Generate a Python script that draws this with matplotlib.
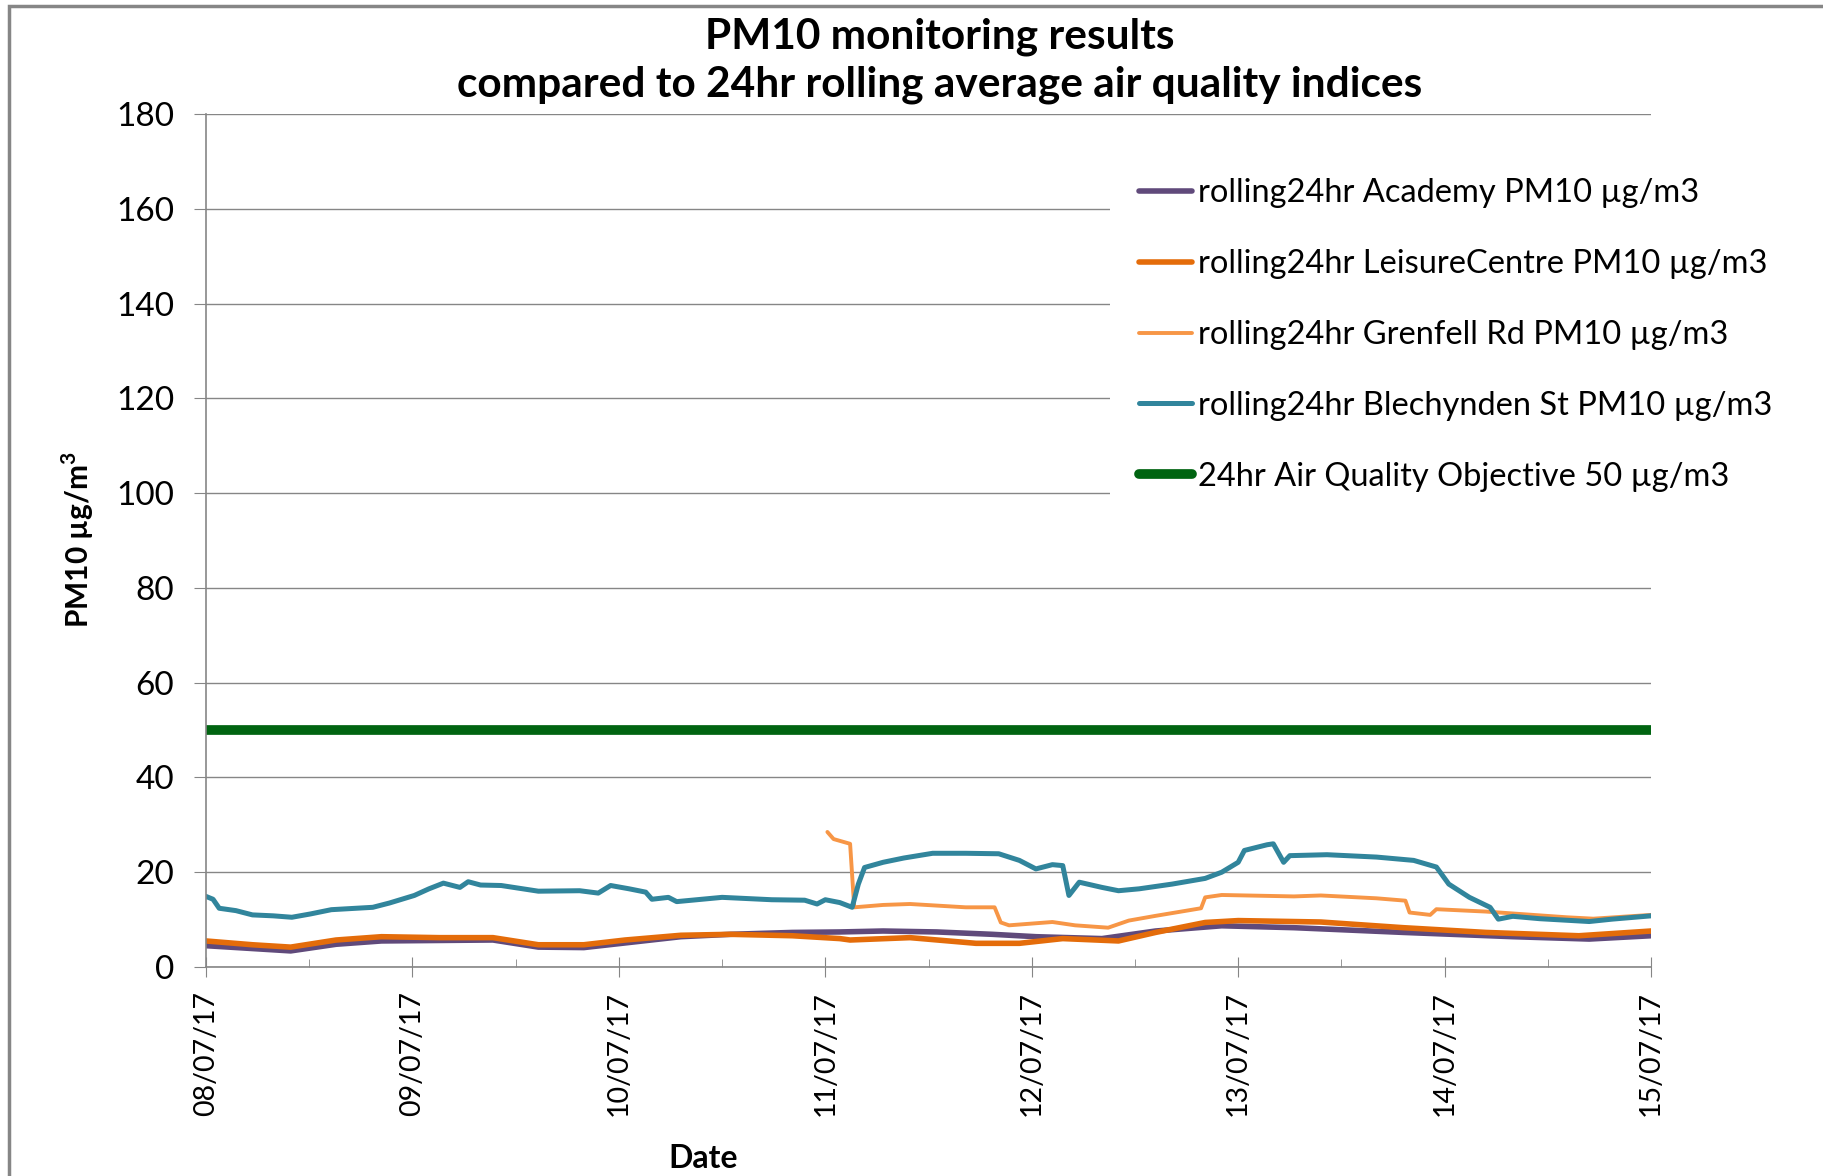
import matplotlib
matplotlib.use("Agg")
import matplotlib.pyplot as plt
import matplotlib.dates as mdates
from matplotlib.patches import Rectangle
import pandas as pd

plt.rcParams['font.family'] = ['Lato', 'DejaVu Sans']
plt.rcParams['mathtext.fontset'] = 'custom'
plt.rcParams['mathtext.bf'] = 'Lato:bold'
plt.rcParams['mathtext.rm'] = 'Lato'

START = pd.Timestamp("2017-07-08")

# days since 08/07/17 00:00 and 24hr rolling PM10 (ug/m3)
academy_days = [0, 0.41, 0.63, 0.85, 1.39, 1.61, 1.83, 2.30, 2.54, 2.84, 3.07, 3.28,
                3.54, 3.81, 4.02, 4.34, 4.60, 4.92, 5.27, 5.80, 6.33, 6.70, 7.0]
academy_vals = [4.5, 3.4, 4.8, 5.5, 5.7, 4.2, 4.1, 6.4, 6.9, 7.3, 7.4, 7.6,
                7.4, 6.9, 6.4, 6.0, 7.6, 8.7, 8.3, 7.3, 6.4, 5.9, 6.6]

leisure_days = [0, 0.225, 0.41, 0.63, 0.85, 1.13, 1.39, 1.61, 1.83, 2.03, 2.30, 2.54,
                2.84, 3.07, 3.12, 3.41, 3.73, 3.94, 4.15, 4.42, 4.60, 4.84, 5.0, 5.40,
                5.80, 6.20, 6.65, 7.0]
leisure_vals = [5.5, 4.7, 4.2, 5.7, 6.4, 6.2, 6.2, 4.7, 4.7, 5.7, 6.7, 6.9,
                6.6, 6.0, 5.7, 6.2, 5.0, 5.0, 6.0, 5.5, 7.3, 9.4, 9.8, 9.5,
                8.3, 7.3, 6.6, 7.6]

grenfell_days = [3.01, 3.04, 3.12, 3.14, 3.28, 3.41, 3.68, 3.82, 3.85, 3.89, 4.10, 4.21,
                 4.37, 4.47, 4.60, 4.82, 4.84, 4.92, 5.27, 5.40, 5.67, 5.81, 5.83, 5.93,
                 5.96, 6.20, 6.33, 6.59, 6.72, 7.0]
grenfell_vals = [28.5, 27.0, 26.0, 12.6, 13.1, 13.3, 12.6, 12.6, 9.4, 8.8, 9.5, 8.8,
                 8.3, 9.8, 10.8, 12.4, 14.7, 15.2, 14.9, 15.1, 14.5, 14.0, 11.5, 11.0,
                 12.2, 11.7, 11.3, 10.5, 10.2, 11.0]

blech_days = [0, 0.034, 0.064, 0.145, 0.225, 0.326, 0.416, 0.506, 0.607, 0.808, 0.888,
              1.009, 1.08, 1.15, 1.23, 1.27, 1.33, 1.43, 1.61, 1.81, 1.90, 1.96, 2.05,
              2.13, 2.16, 2.24, 2.28, 2.50, 2.74, 2.90, 2.96, 3.0, 3.07, 3.13, 3.16,
              3.19, 3.28, 3.38, 3.52, 3.68, 3.84, 3.94, 4.02, 4.10, 4.15, 4.18, 4.23,
              4.34, 4.42, 4.52, 4.68, 4.84, 4.92, 5.0, 5.03, 5.14, 5.17, 5.22, 5.25,
              5.43, 5.67, 5.85, 5.96, 6.02, 6.12, 6.22, 6.26, 6.33, 6.46, 6.70, 6.81, 7.0]
blech_vals = [14.9, 14.3, 12.4, 11.9, 11.0, 10.8, 10.5, 11.2, 12.1, 12.6, 13.5,
              15.1, 16.5, 17.7, 16.8, 18.0, 17.3, 17.2, 16.0, 16.1, 15.6, 17.2, 16.5,
              15.8, 14.3, 14.7, 13.8, 14.7, 14.2, 14.1, 13.3, 14.2, 13.6, 12.6, 17.5,
              21.0, 22.1, 23.0, 24.0, 24.0, 23.9, 22.5, 20.7, 21.6, 21.4, 15.1, 17.9,
              16.8, 16.1, 16.5, 17.5, 18.7, 20.0, 22.1, 24.6, 25.8, 26.0, 22.1, 23.5,
              23.7, 23.2, 22.5, 21.1, 17.5, 14.7, 12.6, 10.1, 10.7, 10.2, 9.6, 10.1, 10.8]

objective_days = [0, 7]
objective_vals = [50, 50]

series = [
    ("rolling24hr Academy PM10 µg/m3", academy_days, academy_vals, "#604A7B", 4.0),
    ("rolling24hr LeisureCentre PM10 µg/m3", leisure_days, leisure_vals, "#E46C0A", 4.0),
    ("rolling24hr Grenfell Rd PM10 µg/m3", grenfell_days, grenfell_vals, "#F79646", 2.8),
    ("rolling24hr Blechynden St PM10 µg/m3", blech_days, blech_vals, "#31859C", 3.6),
    ("24hr Air Quality Objective 50 µg/m3", objective_days, objective_vals, "#006411", 7.0),
]


def to_time(days):
    return START + pd.to_timedelta(days, unit="D")


fig = plt.figure(figsize=(18.23, 11.76), dpi=100)
ax = fig.add_axes([0.1130, 0.1777, 0.7927, 0.7254])

for label, d, v, c, lw in series:
    ax.plot(to_time(d), v, color=c, lw=lw, label=label, solid_capstyle="round")

grey = "#868686"
ax.set_ylim(0, 180)
ax.set_yticks(range(0, 181, 20))
ax.set_xlim(to_time([0])[0], to_time([7])[0])
ax.xaxis.set_major_locator(mdates.DayLocator())
ax.xaxis.set_minor_locator(mdates.HourLocator(byhour=[12]))
ax.xaxis.set_major_formatter(mdates.DateFormatter("%d/%m/%y"))
ax.grid(axis="y", color=grey, lw=1)
ax.set_axisbelow(True)
for s in ["top", "right"]:
    ax.spines[s].set_visible(False)
for s in ["left", "bottom"]:
    ax.spines[s].set_color(grey)
    ax.spines[s].set_linewidth(1.2)

ax.tick_params(axis="y", which="major", direction="out", length=9, color=grey,
               pad=14, labelsize=24)
ax.tick_params(axis="x", which="major", direction="inout", length=15, color=grey,
               pad=10, labelsize=20.5, labelrotation=90)
ax.tick_params(axis="x", which="minor", direction="in", length=5.5, color=grey)

fig.text(78 / 1823, 1 - 540 / 1176, r"PM10 µg/m$^{\mathbf{3}}$", fontsize=21.5,
         fontweight="bold", rotation=90, ha="center", va="center")
fig.text(703 / 1823, 1 - 1159 / 1176, "Date", fontsize=23, fontweight="bold",
         ha="center", va="center")

fig.text(940 / 1823, 1 - 37 / 1176, "PM10 monitoring results", fontsize=30.5,
         fontweight="bold", ha="center", va="center")
fig.text(940 / 1823, 1 - 85 / 1176,
         "compared to 24hr rolling average air quality indices", fontsize=30.5,
         fontweight="bold", ha="center", va="center")

leg = ax.legend(loc="upper left", bbox_to_anchor=(1110 / 1823, 1 - 149 / 1176),
                bbox_transform=fig.transFigure, fontsize=23.5, frameon=True,
                facecolor="white", edgecolor="none", framealpha=1, fancybox=False,
                handlelength=1.6, handletextpad=0.2, labelspacing=1.25,
                borderpad=0.9, borderaxespad=0)

fig.add_artist(Rectangle((9 / 1823, -0.05), 1.1, 1 - 6 / 1176 + 0.05,
                         transform=fig.transFigure, fill=False, edgecolor=grey, lw=2.5))

fig.savefig("out.png", dpi=100)
